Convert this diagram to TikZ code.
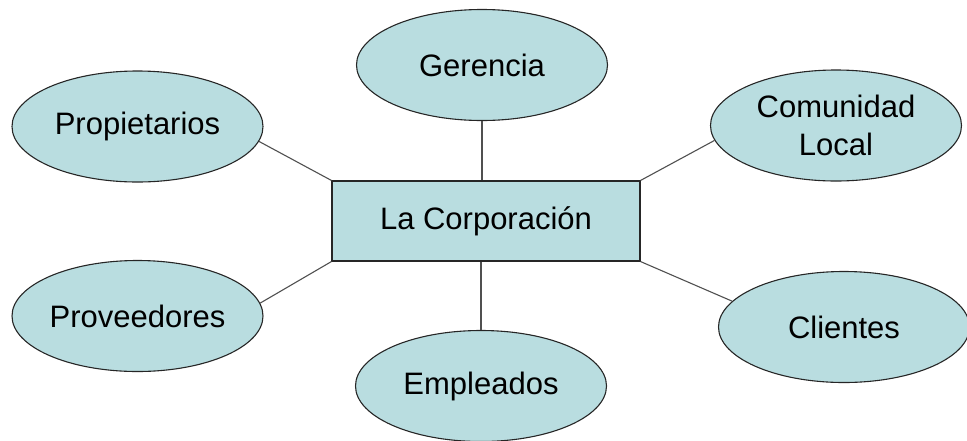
\documentclass[tikz,border=0pt]{standalone}
\usepackage{fontspec}
\setmainfont{Liberation Sans}
\usetikzlibrary{shapes.geometric}
\definecolor{celeste}{RGB}{185,221,224}
\definecolor{linea}{RGB}{80,80,80}
\begin{document}
\begin{tikzpicture}[x=1pt, y=-1pt,
	grupo/.style={draw=black!85, fill=celeste, ellipse, align=center,
		minimum width=251pt, minimum height=111pt, inner sep=0pt,
		font=\fontsize{31}{38}\selectfont},
	enlace/.style={draw=linea, line width=1.1pt}]
	\useasboundingbox (0,0) rectangle (967,440);

	\node[draw=black!85, fill=celeste, line width=1.1pt,
		minimum width=308pt, minimum height=80pt,
		font=\fontsize{31}{38}\selectfont] (corp) at (486,221) {La Corporación};

	\node[grupo, line width=1.1pt] (ger) at (482,65) {Gerencia};
	\node[grupo, line width=1.1pt] (prop) at (137.5,126.5) {Propietarios};
	\node[grupo, line width=1.1pt] (com) at (836,125.5) {Comunidad\\Local};
	\node[grupo, line width=1.1pt] (prov) at (137.5,316) {Proveedores};
	\node[grupo, line width=1.1pt] (cli) at (844,327) {Clientes};
	\node[grupo, line width=1.1pt] (emp) at (481,386) {Empleados};

	\draw[enlace] (ger.south) to (ger.south |- corp.north);
	\draw[enlace] (emp.north) to (emp.north |- corp.south);
	\draw[enlace] (prop.-7) to (corp.north west);
	\draw[enlace] (com.-173) to (corp.north east);
	\draw[enlace] (prov.6) to (corp.south west);
	\draw[enlace] (cli.167) to (corp.south east);
\end{tikzpicture}
\end{document}
